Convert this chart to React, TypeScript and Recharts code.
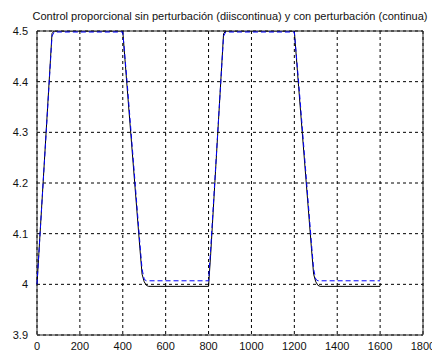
import { CartesianGrid, Line, LineChart, ReferenceArea, XAxis, YAxis } from 'recharts';

// tiempo (muestras) y salida de las dos simulaciones
const tiempo = [0, 10, 70, 80, 400, 420, 480, 490, 500, 510, 520, 800, 810, 870, 880, 1200, 1220, 1280, 1290, 1300, 1310, 1320, 1600];
const conPerturbacion = [4.0, 4.07, 4.495, 4.5, 4.5, 4.39, 4.07, 4.02, 4.005, 3.998, 3.996, 3.996, 4.06, 4.495, 4.5, 4.5, 4.39, 4.07, 4.02, 4.005, 3.998, 3.996, 3.996];
const sinPerturbacion = [4.0, 4.07, 4.49, 4.498, 4.498, 4.4, 4.08, 4.03, 4.01, 4.007, 4.007, 4.007, 4.07, 4.49, 4.498, 4.498, 4.4, 4.08, 4.03, 4.01, 4.007, 4.007, 4.007];

const xTicks = [0, 200, 400, 600, 800, 1000, 1200, 1400, 1600, 1800];
const yTicks = [3.9, 4.0, 4.1, 4.2, 4.3, 4.4, 4.5];

const titulo = 'Control proporcional sin perturbación (diiscontinua) y con perturbación (continua)';

const data = tiempo.map((t, i) => ({ t, con: conPerturbacion[i], sin: sinPerturbacion[i] }));

const tickStyle = { fontFamily: 'Liberation Sans, Arial, sans-serif', fontSize: 11, fill: '#111' };

export default function App() {
  return (
    <div style={{ position: 'absolute', left: 0, top: 0, width: 432, height: 351, background: '#fff' }}>
      <svg width={432} height={24} style={{ position: 'absolute', left: 0, top: 0 }}>
        <text
          x={230}
          y={20}
          textAnchor="middle"
          textLength={395}
          lengthAdjust="spacingAndGlyphs"
          style={{ fontFamily: 'Liberation Sans, Arial, sans-serif', fontSize: 10.5, fill: '#111' }}
        >
          {titulo}
        </text>
      </svg>
      <LineChart width={432} height={351} data={data} margin={{ top: 31, right: 9, bottom: 0, left: 0 }}>
        <CartesianGrid stroke="#000" strokeDasharray="3 3" strokeWidth={1} />
        <XAxis
          dataKey="t"
          type="number"
          domain={[0, 1800]}
          ticks={xTicks}
          interval={0}
          height={16}
          tickLine={false}
          axisLine={false}
          tick={tickStyle}
          tickMargin={1}
        />
        <YAxis
          type="number"
          domain={[3.9, 4.5]}
          ticks={yTicks}
          interval={0}
          width={37}
          tickLine={false}
          axisLine={false}
          tick={tickStyle}
          tickMargin={3}
          tickFormatter={(v: number) => String(+v.toFixed(1))}
          allowDataOverflow
        />
        <ReferenceArea x1={0} x2={1800} y1={3.9} y2={4.5} fill="none" stroke="#222" strokeWidth={1} ifOverflow="visible" />
        <Line dataKey="con" type="linear" stroke="#000" strokeWidth={1} dot={false} isAnimationActive={false} />
        <Line dataKey="sin" type="linear" stroke="#0000ff" strokeWidth={1} strokeDasharray="5 3" dot={false} isAnimationActive={false} />
      </LineChart>
    </div>
  );
}
